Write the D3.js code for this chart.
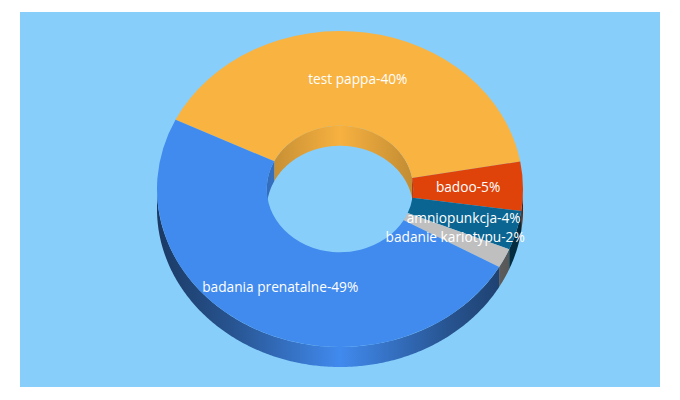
<!DOCTYPE html>
<html><head><meta charset="utf-8">
<script src="https://cdn.jsdelivr.net/npm/d3@7"></script>
<style>html,body{margin:0;padding:0;background:#fff;}svg{display:block;}</style>
</head><body>
<script>
const categories = ["test pappa","badoo","amniopunkcja","badanie kariotypu","badania prenatalne"];
const values = [40,5,4,2,49];
const colors = ["#F9B341","#DF430A","#0A6592","#BFBFBF","#418AEE"];

const W=680,H=400;
const cx=340, cy=189, rx=183, ry=158, inner=0.4, depth=20;
const startDeg=-64;

const svg=d3.select("body").append("svg").attr("width",W).attr("height",H);
svg.append("rect").attr("x",20).attr("y",12).attr("width",640).attr("height",375).attr("fill","#87CEFA");

const defs=svg.append("defs");
function shade(c,k){const r=d3.rgb(c);return d3.rgb(r.r*k,r.g*k,r.b*k).toString();}
colors.forEach((c,i)=>{
  const go=defs.append("linearGradient").attr("id","go"+i).attr("gradientUnits","userSpaceOnUse")
    .attr("x1",cx-rx).attr("x2",cx+rx).attr("y1",0).attr("y2",0);
  [[0,0.42],[0.2,0.6],[0.5,1],[0.8,0.6],[1,0.42]].forEach(s=>go.append("stop").attr("offset",s[0]).attr("stop-color",shade(c,s[1])));
  const gi=defs.append("linearGradient").attr("id","gi"+i).attr("gradientUnits","userSpaceOnUse")
    .attr("x1",cx-rx*inner).attr("x2",cx+rx*inner).attr("y1",0).attr("y2",0);
  [[0,0.78],[0.5,0.99],[1,0.78]].forEach(s=>gi.append("stop").attr("offset",s[0]).attr("stop-color",shade(c,s[1])));
});

const pie=d3.pie().sort(null).value(d=>d)
  .startAngle(startDeg*Math.PI/180).endAngle(startDeg*Math.PI/180+2*Math.PI);
const arcs=pie(values);

const line=d3.line();
function wall(a0,a1,kx,ky){
  const n=Math.max(2,Math.ceil((a1-a0)/0.01));
  const top=[],bot=[];
  for(let j=0;j<=n;j++){
    const a=a0+(a1-a0)*j/n;
    const x=cx+kx*Math.sin(a), y=cy-ky*Math.cos(a);
    top.push([x,y]); bot.push([x,y+depth]);
  }
  return line(top.concat(bot.reverse()))+"Z";
}
function clip(s,e,lo,hi){const a=Math.max(s,lo),b=Math.min(e,hi);return a<b?[a,b]:null;}
const P=Math.PI;

// inner walls (far side of hole)
const gIn=svg.append("g");
arcs.forEach((d,i)=>{
  [[-P/2,P/2],[3*P/2,5*P/2],[-5*P/2,-3*P/2]].forEach(r=>{
    const c=clip(d.startAngle,d.endAngle,r[0],r[1]);
    if(c) gIn.append("path").attr("d",wall(c[0],c[1],rx*inner,ry*inner)).attr("fill","url(#gi"+i+")");
  });
});
// outer walls (front)
const gOut=svg.append("g");
arcs.forEach((d,i)=>{
  [[P/2,3*P/2],[-3*P/2,-P/2],[5*P/2,7*P/2]].forEach(r=>{
    const c=clip(d.startAngle,d.endAngle,r[0],r[1]);
    if(c) gOut.append("path").attr("d",wall(c[0],c[1],rx,ry)).attr("fill","url(#go"+i+")");
  });
});
// top faces
const arc=d3.arc().innerRadius(rx*inner).outerRadius(rx);
const gTop=svg.append("g").attr("transform",`translate(${cx},${cy}) scale(1,${ry/rx})`);
gTop.selectAll("path").data(arcs).join("path")
  .attr("d",arc).attr("fill",(d,i)=>colors[i]);

// labels
const labR=0.7;
svg.append("g").selectAll("text").data(arcs).join("text")
  .attr("x",d=>{const a=(d.startAngle+d.endAngle)/2;return cx+rx*labR*Math.sin(a);})
  .attr("y",d=>{const a=(d.startAngle+d.endAngle)/2;return cy-ry*labR*Math.cos(a);})
  .attr("text-anchor","middle").attr("dy","0.35em")
  .attr("font-family","'Open Sans', sans-serif").attr("font-size",13.7).attr("fill","#fff")
  .text((d,i)=>categories[i]+"-"+values[i]+"%");
</script>
</body></html>
